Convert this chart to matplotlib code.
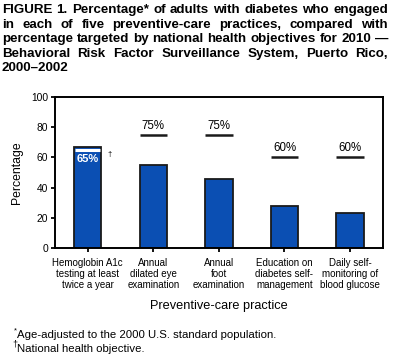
import matplotlib.pyplot as plt
import numpy as np

plt.rcParams['font.family'] = ['Liberation Sans', 'DejaVu Sans']

practices = ["Hemoglobin A1c\ntesting at least\ntwice a year",
             "Annual\ndilated eye\nexamination",
             "Annual\nfoot\nexamination",
             "Education on\ndiabetes self-\nmanagement",
             "Daily self-\nmonitoring of\nblood glucose"]
percent = [67, 55, 46, 28, 23]
objective = [65, 75, 75, 60, 60]

title_lines = ["FIGURE 1. Percentage* of adults with diabetes who engaged",
               "in each of five preventive-care practices, compared with",
               "percentage targeted by national health objectives for 2010 \u2014",
               "Behavioral Risk Factor Surveillance System, Puerto Rico,",
               "2000\u20132002"]

bar_color = "#0b4fb3"
fig = plt.figure(figsize=(3.98, 3.58), dpi=100)
ax = fig.add_axes([0.138, 0.307, 0.824, 0.422])

x = np.arange(len(percent))
w = 0.42
ax.bar(x, percent, width=w, color=bar_color, edgecolor="#1a1a1a", linewidth=1.3, zorder=2)

for i, (p, o) in enumerate(zip(percent, objective)):
    if o < p:
        # objective falls inside the bar
        ax.hlines(o, i - w / 2 + 0.02, i + w / 2 - 0.02, color="white", lw=2.2, zorder=3)
        ax.text(i, o - 2.5, f"{o}%", color="white", ha="center", va="top",
                fontsize=8, fontweight="bold", zorder=4)
        ax.text(i + w / 2 + 0.12, o - 1, "\u2020", fontsize=5.5, ha="center", va="top")
    else:
        ax.hlines(o, i - w / 2, i + w / 2, color="#1a1a1a", lw=1.8, zorder=3)
        ax.text(i, o + 6, f"{o}%", ha="center", va="center", fontsize=8.3)

ax.set_xlim(-0.5, 4.5)
ax.set_ylim(0, 100)
ax.set_yticks(range(0, 101, 20))
ax.set_xticks(x)
ax.set_xticklabels(practices, fontsize=7.0, linespacing=1.15)
ax.tick_params(axis="both", direction="out", length=3, width=1.3, labelsize=7.4, pad=2)
ax.tick_params(axis="x", pad=4, labelsize=7.0)
for s in ax.spines.values():
    s.set_linewidth(1.4)
ax.set_ylabel("Percentage", fontsize=8.8, labelpad=6)
ax.set_xlabel("Preventive-care practice", fontsize=9.2, labelpad=7)

# justified title
renderer = fig.canvas.get_renderer()
left, right = 2 / 398, 388 / 398
y0 = 1 - 10 / 358
lh = 14.6 / 358
tsize = 9.6
for k, line in enumerate(title_lines):
    y = y0 - k * lh
    words = line.split(" ")
    if k == len(title_lines) - 1:
        fig.text(left, y, line, fontsize=tsize, fontweight="bold", va="center", ha="left")
        continue
    texts = [fig.text(0, y, wd, fontsize=tsize, fontweight="bold", va="center", ha="left") for wd in words]
    widths = [t.get_window_extent(renderer).width / fig.bbox.width for t in texts]
    gap = (right - left - sum(widths)) / (len(words) - 1)
    pos = left
    for t, wdt in zip(texts, widths):
        t.set_x(pos)
        pos += wdt + gap

fig.text(14 / 398, 1 - 331 / 358, "*", fontsize=5.5, va="center")
fig.text(17 / 398, 1 - 335 / 358, "Age-adjusted to the 2000 U.S. standard population.", fontsize=8.2, va="center")
fig.text(12 / 398, 1 - 344 / 358, "\u2020", fontsize=6.5, va="center")
fig.text(17 / 398, 1 - 349 / 358, "National health objective.", fontsize=8.2, va="center")

fig.savefig("out.png", dpi=100)
